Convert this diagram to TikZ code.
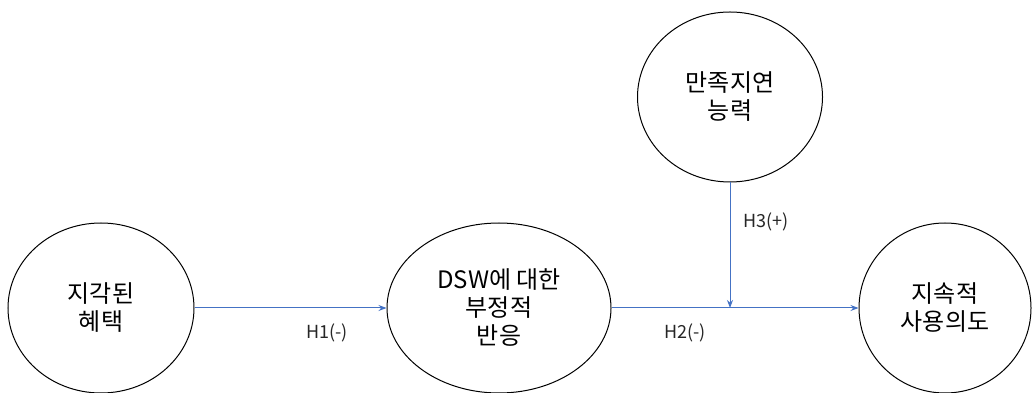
\documentclass[tikz,border=0pt]{standalone}
\usepackage{fontspec}
\setmainfont{Noto Sans CJK KR}
\usetikzlibrary{shapes.geometric,arrows.meta,positioning}
\definecolor{linkblue}{RGB}{68,114,196}
\tikzset{
	factor/.style = {draw, ellipse, line width=1pt, inner sep=0pt, align=center, minimum height=170pt, font=\fontsize{24}{28}\selectfont},
	link/.style = {draw=linkblue, line width=1pt, -{Stealth[length=8pt,width=6pt]}},
	hyp/.style = {font=\fontsize{18}{20}\selectfont, text=black!85, inner sep=0pt}
}

\begin{document}
\begin{tikzpicture}[x=1pt,y=1pt]
	\useasboundingbox (0,0) rectangle (1032,393);
	\node[factor, minimum width=186pt] (benefit) at (101,85) {지각된\\혜택};
	\node[factor, minimum width=224pt] (reaction) at (499,85) {DSW에 대한\\부정적\\반응};
	\node[factor, minimum width=185pt] (delay) at (730,296) {만족지연\\능력};
	\node[factor, minimum width=172pt] (intention) at (945,85) {지속적\\사용의도};
	\coordinate (meet) at (delay.south |- reaction.east);
	\draw[link] (benefit) -- (reaction);
	\draw[link] (reaction) -- (intention);
	\draw[link] (delay) -- (meet);
	\node[hyp] (h1) at (327,60) {H1(-)};
	\node[hyp] (h2) at (685,60) {H2(-)};
	\node[hyp] (h3) at (766,171) {H3(+)};
\end{tikzpicture}
\end{document}
